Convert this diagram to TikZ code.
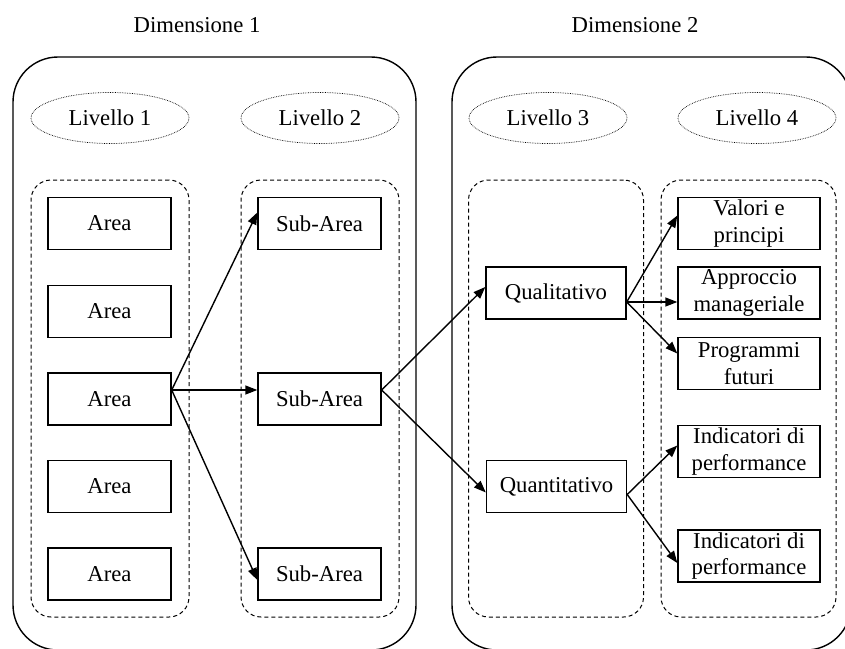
\documentclass[tikz,border=0pt]{standalone}
\usepackage{fontspec}
\setmainfont{Liberation Serif}
\usetikzlibrary{arrows.meta,shapes.geometric}
\begin{document}
\begin{tikzpicture}[x=1pt,y=-1pt,
  every node/.style={font=\fontsize{22.7pt}{26.5pt}\selectfont},
  outerbox/.style={draw, line width=1.4pt, rounded corners=45pt, inner sep=0pt},
  dashbox/.style={draw, line width=1pt, dash pattern=on 4pt off 3pt, rounded corners=20pt, inner sep=0pt, minimum width=158pt, minimum height=437pt},
  lvl/.style={draw, ellipse, line width=0.7pt, densely dotted, minimum width=158pt, minimum height=51pt, inner sep=0pt},
  box/.style={draw, line width=1.4pt, fill=white, minimum height=52pt, inner sep=0pt, align=center},
  boxa/.style={box, minimum width=123pt},
  boxq/.style={box, minimum width=140pt},
  boxr/.style={box, minimum width=142pt},
  arr/.style={line width=1.4pt, -{Triangle[length=12pt,width=9pt]}}
]
\useasboundingbox (0,0) rectangle (845,648);
\clip (0,0) rectangle (845,648);

% titles
\node (d1) at (197,25) {Dimensione 1};
\node (d2) at (635,25) {Dimensione 2};

% outer boxes
\node[outerbox, minimum width=403pt, minimum height=593pt] (o1) at (214.5,353.5) {};
\node[outerbox, minimum width=399pt, minimum height=593pt] (o2) at (651.5,353.5) {};

% level ellipses
\node[lvl] (l1) at (110,118) {Livello 1};
\node[lvl] (l2) at (320,118) {Livello 2};
\node[lvl] (l3) at (548,118) {Livello 3};
\node[lvl] (l4) at (757,118) {Livello 4};

% dashed groups
\node[dashbox] (g1) at (110,398.5) {};
\node[dashbox] (g2) at (320,398.5) {};
\node[dashbox, minimum width=175pt] (g3) at (556,398.5) {};
\node[dashbox, minimum width=175pt] (g4) at (748.5,398.5) {};

% level 1
\node[boxa] (a1) at (109.5,223.5) {Area};
\node[boxa] (a2) at (109.5,311.5) {Area};
\node[boxa] (a3) at (109.5,399) {Area};
\node[boxa] (a4) at (109.5,486.5) {Area};
\node[boxa] (a5) at (109.5,574) {Area};

% level 2
\node[boxa] (s1) at (319.5,223.5) {Sub-Area};
\node[boxa] (s2) at (319.5,399) {Sub-Area};
\node[boxa] (s3) at (319.5,574) {Sub-Area};

% level 3
\node[boxq] (q1) at (556,293) {Qualitativo};
\node[boxq] (q2) at (556.5,486.5) {Quantitativo};

% level 4
\node[boxr] (r1) at (749,223.5) {Valori e\\principi};
\node[boxr] (r2) at (749,293) {Approccio\\manageriale};
\node[boxr] (r3) at (749,363.5) {Programmi\\futuri};
\node[boxr] (r4) at (749,451.5) {Indicatori di\\performance};
\node[boxr] (r5) at (749,556) {Indicatori di\\performance};

% connector anchor points
\coordinate (a3o) at ([yshift=9pt]a3.east);
\coordinate (s2o) at ([yshift=9pt]s2.east);
\coordinate (q1o) at ([yshift=-9pt]q1.east);
\coordinate (q2o) at ([yshift=-8pt]q2.east);

\draw[arr] (a3o) -- ([yshift=11pt]s1.west);
\draw[arr] (a3o) -- ([yshift=9pt]s2.west);
\draw[arr] (a3o) -- ([yshift=-6pt]s3.west);

\draw[arr] (s2o) -- ([yshift=6pt]q1.west);
\draw[arr] (s2o) -- ([yshift=-6pt]q2.west);

\draw[arr] (q1o) -- ([yshift=8pt]r1.west);
\draw[arr] (q1o) -- ([yshift=-9pt]r2.west);
\draw[arr] (q1o) -- ([yshift=10pt]r3.west);

\draw[arr] (q2o) -- ([yshift=6pt]r4.west);
\draw[arr] (q2o) -- ([yshift=-7pt]r5.west);
\end{tikzpicture}
\end{document}
